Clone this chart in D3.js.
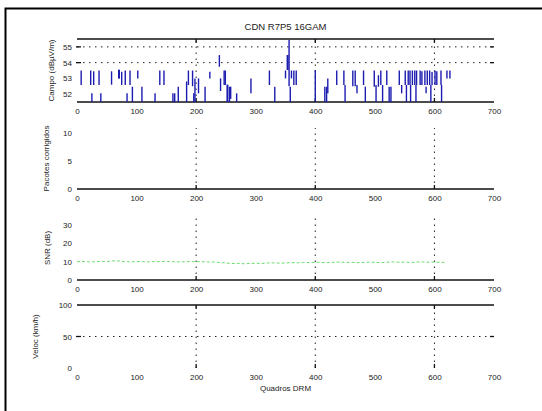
<!DOCTYPE html>
<html>
<head>
<meta charset="utf-8">
<script src="https://cdn.jsdelivr.net/npm/d3@7"></script>
<style>
body { margin: 0; background: #fff; }
text { font-family: "Liberation Sans", Arial, sans-serif; fill: #222; }
.tick text { font-size: 8px; }
.AxisLabel { font-size: 8px; }
.GraphTitle { font-size: 9.5px; }
.grid { stroke: #222; stroke-width: 1; stroke-dasharray: 1.5,4.5; }
.axisline { stroke: #111; stroke-width: 1.3; }
</style>
</head>
<body>
<div id="viz"></div>
<script>
const CONST = { canvas: { width: 542, height: 411 },
                x: { left: 77, right: 494 },
                title: "CDN R7P5 16GAM",
                xLabel: "Quadros DRM" }

// x ticks (frames)
const xTicks = [0, 100, 200, 300, 400, 500, 600, 700]
const xGrid  = [200, 400, 600]

// panel 1 : field strength, vertical segments per frame
const fieldFrames = [7, 23, 25, 28, 37, 40, 58, 70, 71, 75, 81, 84, 89, 93, 102, 109, 131, 139, 146, 161,
  164, 170, 184, 187, 194, 196, 198, 204, 215, 223, 239, 241, 247, 249, 252, 253, 256, 258, 268, 292,
  323, 332, 350, 353, 354, 356, 358, 360, 364, 368, 400, 416, 419, 421, 436, 448, 450, 463, 467, 470,
  481, 484, 499, 502, 506, 510, 513, 520, 524, 527, 541, 545, 551, 553, 556, 559, 560, 563, 567, 569,
  570, 576, 579, 584, 586, 588, 592, 594, 596, 601, 604, 611, 612, 621, 626]
const fieldTop = [53.50, 53.50, 52.05, 53.45, 53.50, 52.05, 53.45, 53.55, 53.55, 53.42, 53.50, 52.05, 53.50, 52.47, 53.50, 52.47, 52.05, 53.50, 53.50, 52.05,
  52.05, 52.47, 52.80, 53.50, 53.50, 52.05, 53.00, 53.00, 52.47, 53.42, 54.48, 53.00, 53.50, 53.50, 52.60, 52.60, 52.47, 52.47, 52.05, 53.00,
  53.50, 52.47, 53.50, 54.48, 54.48, 55.44, 52.47, 53.50, 53.50, 53.50, 53.53, 52.47, 52.47, 53.00, 53.50, 53.50, 52.58, 53.50, 53.50, 52.58,
  53.50, 52.47, 53.50, 52.58, 53.20, 53.50, 52.58, 53.50, 52.47, 52.47, 53.50, 52.58, 53.50, 52.58, 53.50, 53.50, 52.58, 53.50, 53.50, 52.58,
  53.50, 53.50, 53.45, 53.50, 52.47, 53.50, 53.50, 52.58, 53.40, 53.50, 53.45, 53.50, 52.58, 53.50, 53.50]
const fieldBottom = [52.58, 52.58, 51.50, 52.58, 52.58, 51.50, 52.60, 53.00, 53.00, 52.58, 52.58, 51.50, 52.58, 51.50, 53.00, 51.50, 51.50, 52.58, 52.58, 51.50,
  51.50, 51.50, 51.50, 52.58, 52.50, 51.50, 51.50, 52.05, 51.50, 53.00, 53.74, 52.20, 52.58, 52.58, 51.50, 51.50, 51.50, 51.70, 51.50, 52.05,
  52.58, 51.50, 53.00, 53.53, 53.53, 52.50, 51.50, 53.00, 52.58, 52.58, 51.52, 51.50, 51.50, 52.05, 52.58, 52.58, 51.50, 52.50, 52.50, 52.05,
  52.58, 51.50, 52.47, 51.50, 52.47, 52.58, 51.50, 52.58, 51.50, 51.50, 52.58, 52.05, 52.58, 51.50, 52.58, 52.58, 51.50, 52.58, 52.58, 51.50,
  52.58, 52.58, 52.58, 52.58, 52.05, 52.58, 52.58, 51.50, 52.58, 52.58, 52.58, 52.58, 51.50, 53.00, 53.00]

// panel 3 : SNR every 10 frames
const snrFrames = d3.range(0, 630, 10)
const snrValues = [10.0, 10.1, 9.9, 10.0, 10.2, 10.1,
  10.5, 10.4, 10.0, 9.9, 10.1,
  10.0, 9.9, 10.1, 10.0, 10.2, 10.0, 9.9, 10.0, 10.1, 10.0,
  10.0, 9.8, 9.9, 9.6, 9.3,
  9.0, 9.1, 8.9, 9.0, 9.2, 9.0, 9.3, 9.4, 9.2, 9.3,
  9.5, 9.4, 9.6, 9.5, 9.7, 9.6, 9.5, 9.7, 9.8, 9.6,
  9.7, 9.5, 9.6, 9.8, 9.6, 9.5, 9.7, 9.9, 9.7, 9.8,
  9.6, 9.8, 9.9, 9.7, 9.8, 9.6, 9.7]

const panels = [
  { label: "Campo (dB\u00b5V/m)", domain: [51.5, 55.5], range: [102, 39], ticks: [52, 53, 54, 55], grid: [54, 55],
    top: true, bottom: true, labelX: 54 },
  { label: "Pacotes corrigidos", domain: [0, 10.9], range: [189, 128], ticks: [0, 5, 10], grid: [],
    top: false, bottom: true, labelX: 49 },
  { label: "SNR (dB)", domain: [0, 35], range: [280, 216], ticks: [0, 10, 20, 30], grid: [],
    top: false, bottom: true, labelX: 50 },
  { label: "Veloc (km/h)", domain: [0, 100], range: [368, 305], ticks: [0, 50, 100], grid: [50],
    top: true, bottom: false, labelX: 38 }
]

const svg = d3.select("#viz").append("svg")
  .attr("width", CONST.canvas.width)
  .attr("height", CONST.canvas.height)

// outer frame (left + top edge)
svg.append("path").attr("d", "M5.5,411V8.5H542").attr("fill", "none").attr("stroke", "#000").attr("stroke-width", 2)

const x = d3.scaleLinear().domain([0, 700]).range([CONST.x.left, CONST.x.right])

function drawPanel(p) {
  const y = d3.scaleLinear().domain(p.domain).range(p.range)
  const g = svg.append("g")
  const y0 = p.range[0], y1 = p.range[1]

  // vertical dotted grid
  xGrid.forEach(v => {
    g.append("line").attr("class", "grid").attr("x1", x(v)).attr("x2", x(v)).attr("y1", y0).attr("y2", y1)
    g.append("line").attr("class", "axisline").attr("x1", x(v)).attr("x2", x(v)).attr("y1", y0).attr("y2", y0 - 4)
    if (p.top) g.append("line").attr("class", "axisline").attr("x1", x(v)).attr("x2", x(v)).attr("y1", y1).attr("y2", y1 + 4)
  })
  // horizontal dotted grid
  p.grid.forEach(v => {
    g.append("line").attr("class", "grid").attr("x1", x(0)).attr("x2", x(700)).attr("y1", y(v)).attr("y2", y(v))
    g.append("line").attr("class", "axisline").attr("x1", x(0) - 1).attr("x2", x(0) + 4).attr("y1", y(v)).attr("y2", y(v))
    g.append("line").attr("class", "axisline").attr("x1", x(700) - 4).attr("x2", x(700)).attr("y1", y(v)).attr("y2", y(v))
  })
  if (p.bottom) g.append("line").attr("class", "axisline").attr("x1", x(0)).attr("x2", x(700)).attr("y1", y0).attr("y2", y0)
  if (p.top) g.append("line").attr("class", "axisline").attr("x1", x(0)).attr("x2", x(700)).attr("y1", y1).attr("y2", y1)

  const xAxis = g.append("g").attr("transform", `translate(0,${y0 + 3})`)
    .call(d3.axisBottom(x).tickValues(xTicks).tickSize(0).tickFormat(d3.format("d")))
  xAxis.select(".domain").remove()

  const yAxis = g.append("g").attr("transform", `translate(${x(0) - 2},0)`)
    .call(d3.axisLeft(y).tickValues(p.ticks).tickSize(0).tickFormat(d3.format("d")))
  yAxis.select(".domain").remove()

  g.append("text").attr("class", "AxisLabel")
    .attr("transform", `translate(${p.labelX},${(y0 + y1) / 2}) rotate(-90)`)
    .attr("text-anchor", "middle").text(p.label)
  return y
}

const ys = panels.map(drawPanel)

// title and x label
svg.append("text").attr("class", "GraphTitle").attr("x", (CONST.x.left + CONST.x.right) / 2).attr("y", 30)
  .attr("text-anchor", "middle").text(CONST.title)
svg.append("text").attr("class", "AxisLabel").attr("x", (CONST.x.left + CONST.x.right) / 2).attr("y", 391)
  .attr("text-anchor", "middle").text(CONST.xLabel)

// field strength segments
svg.append("g").selectAll("line").data(fieldFrames).join("line")
  .attr("x1", d => x(d)).attr("x2", d => x(d))
  .attr("y1", (d, i) => ys[0](fieldTop[i])).attr("y2", (d, i) => ys[0](fieldBottom[i]))
  .attr("stroke", "#1c1cb0").attr("stroke-width", 1.4)

// SNR trace
const snrLine = d3.line().x((d, i) => x(snrFrames[i])).y(d => ys[2](d))
svg.append("path").datum(snrValues).attr("d", snrLine)
  .attr("fill", "none").attr("stroke", "#6fdc6f").attr("stroke-width", 1).attr("stroke-dasharray", "3,2")
</script>
</body>
</html>
